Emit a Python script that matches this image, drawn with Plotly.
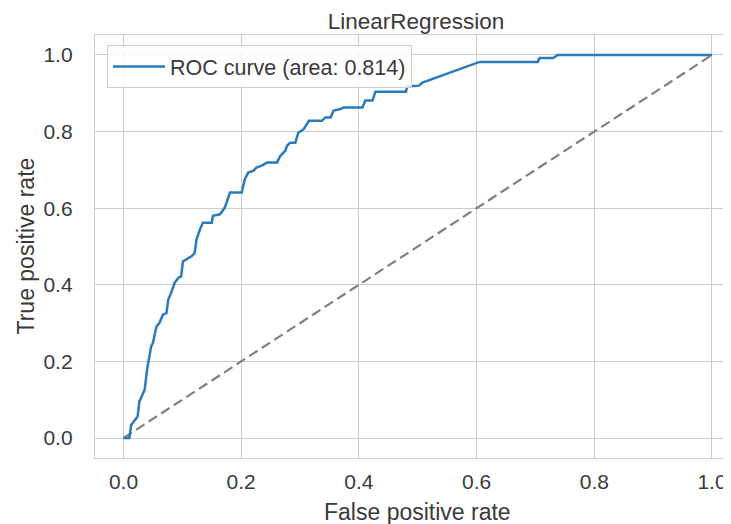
import plotly.graph_objects as go

# ROC curve points
fpr = [0.0, 0.010, 0.013, 0.019, 0.024, 0.027, 0.033, 0.036, 0.040, 0.044, 0.047, 0.050,
       0.056, 0.061, 0.067, 0.073, 0.076, 0.081, 0.087, 0.093, 0.098, 0.101, 0.107, 0.116,
       0.121, 0.124, 0.130, 0.135, 0.150, 0.152, 0.164, 0.172, 0.181, 0.201, 0.206, 0.212,
       0.221, 0.226, 0.235, 0.244, 0.261, 0.266, 0.275, 0.278, 0.283, 0.292, 0.297, 0.306,
       0.315, 0.337, 0.343, 0.352, 0.357, 0.369, 0.374, 0.406, 0.411, 0.423, 0.428, 0.480,
       0.482, 0.502, 0.508, 0.605, 0.704, 0.707, 0.730, 0.738, 1.0]
tpr = [0.0, 0.0, 0.034, 0.047, 0.056, 0.095, 0.113, 0.126, 0.178, 0.213, 0.239, 0.248,
       0.291, 0.300, 0.322, 0.326, 0.361, 0.379, 0.405, 0.418, 0.422, 0.461, 0.466, 0.475,
       0.483, 0.518, 0.545, 0.562, 0.562, 0.580, 0.584, 0.601, 0.641, 0.641, 0.675, 0.693,
       0.698, 0.706, 0.711, 0.719, 0.719, 0.736, 0.750, 0.763, 0.771, 0.771, 0.797, 0.806,
       0.828, 0.828, 0.837, 0.837, 0.855, 0.859, 0.863, 0.863, 0.881, 0.881, 0.904, 0.904,
       0.918, 0.920, 0.928, 0.982, 0.982, 0.992, 0.992, 1.0, 1.0]
diag = [0.0, 1.0]
auc_label = "ROC curve (area: 0.814)"
title = "LinearRegression"
x_title = "False positive rate"
y_title = "True positive rate"
ticks = [0.0, 0.2, 0.4, 0.6, 0.8, 1.0]
tick_text = ["0.0", "0.2", "0.4", "0.6", "0.8", "1.0"]

FONT = "Liberation Sans, Arial, sans-serif"
TXT = "#3a3a3a"
GRID = "#cccccc"

fig = go.Figure()
fig.add_trace(go.Scatter(x=diag, y=diag, mode="lines", showlegend=False,
                         line=dict(color="#808080", width=2.2, dash="10px,5px")))
fig.add_trace(go.Scatter(x=fpr, y=tpr, mode="lines", name=auc_label,
                         line=dict(color="#2b7bba", width=2.5)))

# page body adds an 8px offset; figure coordinates = screen coordinates - 8
OFF = 8
W, H = 731 - OFF, 524 - OFF
L, T = 95 - OFF, 35 - OFF
R, B = 0, H - (458 - OFF)
PW, PH = W - L - R, H - T - B
fig.update_layout(
    width=W, height=H,
    margin=dict(l=L, r=R, t=T, b=B, autoexpand=False),
    paper_bgcolor="white", plot_bgcolor="white",
    font=dict(family=FONT, color=TXT, size=21),
    showlegend=True,
    legend=dict(x=(107 - 95) / PW, y=1 - (45 - 35) / PH,
                xanchor="left", yanchor="top", itemwidth=52,
                bgcolor="rgba(255,255,255,0.8)", bordercolor=GRID, borderwidth=1,
                font=dict(family=FONT, size=21.5, color=TXT)),
    title=dict(text=title, x=(416 - OFF) / W, xref="container", xanchor="center",
               y=1 - (21 - OFF) / H, yref="container", yanchor="middle",
               font=dict(family=FONT, size=22.5, color=TXT)),
)

axis_style = dict(tickvals=ticks, ticktext=tick_text, automargin=False,
                  showgrid=True, gridcolor=GRID, gridwidth=1.3, zeroline=False,
                  showline=True, linecolor=GRID, linewidth=1.3, mirror=True,
                  ticks="outside", tickcolor="rgba(0,0,0,0)",
                  tickfont=dict(family=FONT, size=21, color=TXT))
fig.update_xaxes(range=[-0.0484, 1.0323], ticklen=5, **axis_style)
fig.update_yaxes(range=[-0.0522, 1.0522], ticklen=17, **axis_style)

fig.add_annotation(text=x_title, xref="paper", yref="paper",
                   x=(417 - 95) / PW, y=-(512 - 458) / PH,
                   xanchor="center", yanchor="middle", showarrow=False,
                   font=dict(family=FONT, size=23, color=TXT))
fig.add_annotation(text=y_title, xref="paper", yref="paper",
                   x=-(95 - 25) / PW, y=0.5, textangle=-90,
                   xanchor="center", yanchor="middle", showarrow=False,
                   font=dict(family=FONT, size=23, color=TXT))

fig.write_html("out.html")
